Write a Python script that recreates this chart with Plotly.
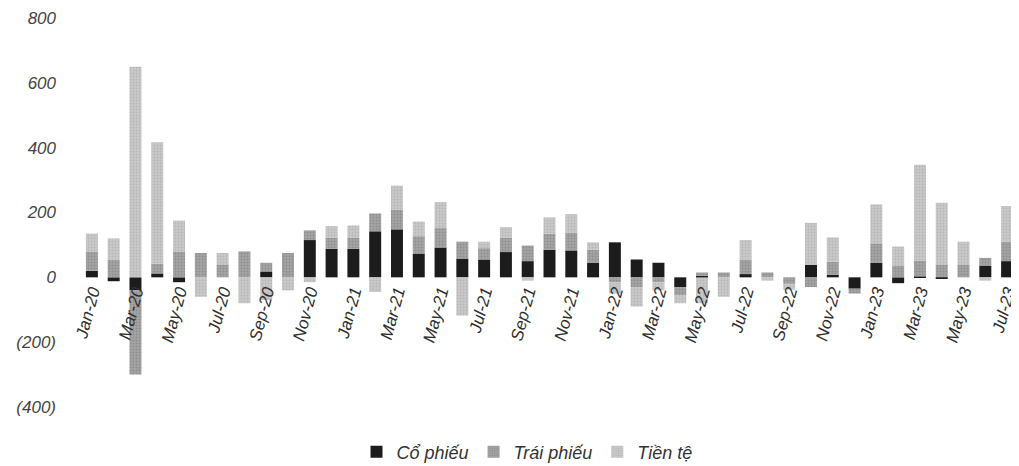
import plotly.graph_objects as go

months = ["Jan-20","Feb-20","Mar-20","Apr-20","May-20","Jun-20","Jul-20","Aug-20","Sep-20","Oct-20","Nov-20","Dec-20",
          "Jan-21","Feb-21","Mar-21","Apr-21","May-21","Jun-21","Jul-21","Aug-21","Sep-21","Oct-21","Nov-21","Dec-21",
          "Jan-22","Feb-22","Mar-22","Apr-22","May-22","Jun-22","Jul-22","Aug-22","Sep-22","Oct-22","Nov-22","Dec-22",
          "Jan-23","Feb-23","Mar-23","Apr-23","May-23","Jun-23","Jul-23"]

co_phieu = [20, -12, -40, 12, -15, 0, 0, 0, 18, 0, 115, 88,
            88, 142, 148, 72, 92, 58, 55, 78, 50, 85, 83, 45,
            108, 55, 45, -30, 5, 0, 10, 0, 0, 38, 8, -35,
            45, -18, 2, -5, 0, 35, 50]

trai_phieu = [60, 55, -260, 30, 80, 75, 40, 80, 27, 75, 30, 35,
              35, 55, 60, 55, 60, 52, 35, 45, 48, 50, 55, 40,
              -15, -30, -15, -25, 10, 15, 45, 15, -20, -30, 40, -15,
              60, 35, 50, 40, 40, 25, 60]

tien_te = [55, 65, 650, 375, 95, -60, 35, -80, -70, -40, -15, 35,
           37, -45, 75, 45, 80, -118, 20, 32, -10, 50, 57, 23,
           -35, -60, -25, -25, -80, -60, 60, -10, -18, 130, 75, 0,
           120, 60, 295, 190, 70, -10, 110]

y_ticks = [800, 600, 400, 200, 0, -200, -400]
y_labels = ["800", "600", "400", "200", "0", "(200)", "(400)"]
x_ticks = months[::2]

FONT = "Liberation Sans Narrow, Arial Narrow, Liberation Sans, sans-serif"

fig = go.Figure()
fig.add_trace(go.Bar(x=months, y=co_phieu, name="Cổ phiếu",
                     marker=dict(color="#1c1c1c", line=dict(width=0))))
fig.add_trace(go.Bar(x=months, y=trai_phieu, name="Trái phiếu",
                     marker=dict(color="#a4a4a4", line=dict(width=0),
                                 pattern=dict(shape=".", size=3, solidity=0.35, fgcolor="#777777"))))
fig.add_trace(go.Bar(x=months, y=tien_te, name="Tiền tệ",
                     marker=dict(color="#c9c9c9", line=dict(width=0),
                                 pattern=dict(shape=".", size=3, solidity=0.3, fgcolor="#a3a3a3"))))

fig.update_layout(
    barmode="relative",
    bargap=0.45,
    width=1011, height=458,
    margin=dict(l=73, r=1, t=10, b=59, autoexpand=False),
    plot_bgcolor="white", paper_bgcolor="white",
    font=dict(family=FONT, color="#444444", size=16, style="italic"),
    showlegend=True,
    legend=dict(orientation="h", x=0.476, xanchor="center", y=-0.116, yanchor="middle",
                font=dict(family=FONT, size=18, color="#333333", style="italic"),
                itemwidth=30, traceorder="normal"),
)
fig.update_xaxes(
    type="category", categoryorder="array", categoryarray=months,
    tickmode="array", tickvals=x_ticks, ticktext=x_ticks,
    tickangle=-75, showgrid=False, showline=False, zeroline=False, ticks="",
    anchor="free", position=1/3,
    tickfont=dict(family=FONT, size=17, color="#2e2e2e", style="italic"),
)
fig.update_yaxes(
    range=[-400, 800], tickmode="array", tickvals=y_ticks, ticktext=y_labels,
    showgrid=False, showline=False, zeroline=False, ticks="",
    ticklabelstandoff=24,
    tickfont=dict(family=FONT, size=17, color="#444444", style="italic"),
)

fig.write_html("out.html")
